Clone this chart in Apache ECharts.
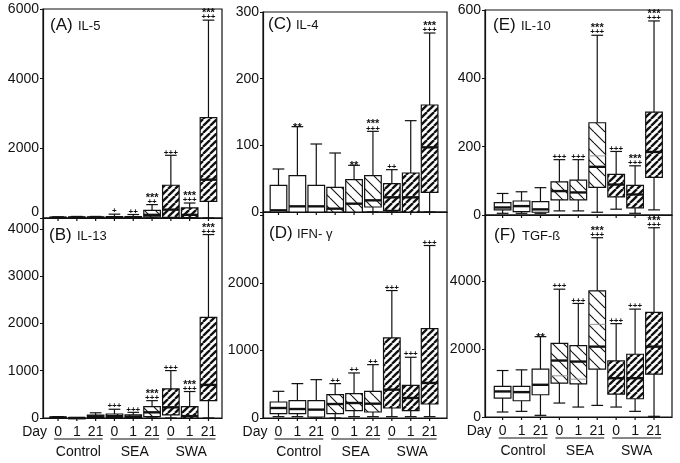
<!DOCTYPE html>
<html><head><meta charset="utf-8">
<script src="https://cdn.jsdelivr.net/npm/echarts@6/dist/echarts.min.js"></script>
<style>html,body{margin:0;padding:0;background:#fff}#c{width:680px;height:463px}</style>
</head><body><div id="c"></div>
<script>
// ---------- categories / labels ----------
const dayLabels = ['0','1','21','0','1','21','0','1','21'];
const groupLabels = ['Control','SEA','SWA'];

// ---------- (A) IL-5 ----------
const il5Min  = [0,0,0, 0,0,0, 0,0,0];
const il5Q1   = [2,3,3, 5,5,30, 20,10,480];
const il5Med  = [8,10,10, 15,15,90, 240,90,1100];
const il5Q3   = [20,30,30, 40,40,220, 940,290,2880];
const il5Max  = [35,45,45, 110,100,385, 1800,430,5680];
const il5Plus = ['','','', '+','++','++', '+++','+++','+++'];
const il5Star = ['','','', '','','***', '','***','***'];

// ---------- (B) IL-13 ----------
const il13Min  = [0,0,0, 0,0,0, 0,0,0];
const il13Q1   = [3,0,15, 10,10,30, 64,0,367];
const il13Med  = [10,2,35, 40,30,120, 226,40,700];
const il13Q3   = [20,5,60, 85,64,240, 615,240,2127];
const il13Max  = [30,8,110, 185,120,367, 1003,560,3880];
const il13Plus = ['','','', '+++','+++','+++', '+++','+++','+++'];
const il13Star = ['','','', '','','***', '','***','***'];

// ---------- (C) IL-4 ----------
const il4Min  = [0,0,0, 0,0,0, 0,0,0];
const il4Q1   = [0,0,0, 0,0,7.5, 2.5,0,29.5];
const il4Med  = [2.5,8.5,8.5, 5,12.5,17.5, 22,22,97];
const il4Q3   = [40,54.5,40, 37,48.5,54.5, 42.5,58.5,160.5];
const il4Max  = [64.5,128,102, 88.5,70,121, 63.5,137,268.5];
const il4Plus = ['','','', '','','+++', '++','','+++'];
const il4Star = ['','**','', '','**','***', '','','***'];

// ---------- (D) IFN-γ ----------
const ifnMin  = [20,20,0, 0,20,20, 20,20,20];
const ifnQ1   = [64,64,15, 64,109,89, 148,109,207];
const ifnMed  = [148,133,124, 207,222,212, 420,296,519];
const ifnQ3   = [237,257,257, 346,360,395, 1186,484,1324];
const ifnMax  = [395,509,568, 509,667,790, 1887,899,2554];
const ifnPlus = ['','','', '++','++','++', '+++','+++','+++'];
const ifnStar = ['','','', '','','', '','',''];

// ---------- (E) IL-10 ----------
const il10Min  = [5,5,5, 12,12,8, 17,5,15];
const il10Q1   = [15,10,8, 44,44,81, 53,21,110];
const il10Med  = [22,26,16.5, 70,66,141, 89,60,184.5];
const il10Mean = [null,null,null, null,null,173, null,null,null];
const il10Q3   = [36,41,39, 97,102,270, 119,87,301];
const il10Max  = [63,68,80, 162,162,526, 186,144,568];
const il10Plus = ['','','', '+++','+++','+++', '+++','+++','+++'];
const il10Star = ['','','', '','','***', '','***','***'];

// ---------- (F) TGF-ß ----------
const tgfMin  = [147,166,49, 411,293,342, 293,166,20];
const tgfQ1   = [557,479,655, 998,978,1408, 675,538,1261];
const tgfMed  = [753,733,949, 1663,1633,2073, 1144,1144,2073];
const tgfMean = [null,null,null, 1213,1115,2729, null,null,null];
const tgfQ3   = [900,900,1408, 2171,2103,3716, 1653,1848,3080];
const tgfMax  = [1369,1389,2367, 3765,3345,5281, 2750,3178,5575];
const tgfPlus = ['','','', '+++','+++','+++', '+++','+++','+++'];
const tgfStar = ['','','**', '','','***', '','','***'];

// ---------- y-axis scales ----------
const yMaxes      = [6000, 4230, 300, 3050, 600, 5950];
const yIntervals  = [2000, 1000, 100, 1000, 200, 2000];
const yLabelLimit = [6000, 4000, 300, 2000, 600, 4000];

const FONT = 'Liberation Sans, Arial, sans-serif';

function hatch(size, dir, lw) {
  const c = document.createElement('canvas');
  c.width = c.height = size;
  const g = c.getContext('2d');
  g.fillStyle = '#fff'; g.fillRect(0, 0, size, size);
  g.strokeStyle = '#111'; g.lineWidth = lw;
  for (let k = -1; k <= 1; k++) {
    g.beginPath();
    if (dir > 0) { g.moveTo(k*size, size); g.lineTo(k*size + size, 0); }
    else { g.moveTo(k*size, 0); g.lineTo(k*size + size, size); }
    g.stroke();
  }
  return c;
}
const seaPat = { image: hatch(11, -1, 1.1), repeat: 'repeat' };
const swaPat = { image: hatch(7, 1, 2.3), repeat: 'repeat' };

const panels = [
  { t:'(A)', n:'IL-5',   grid:{left:43, top:9,   width:179, height:209}, xr:[-0.8,8.72], lab:[50,34],
    d:[il5Min,il5Q1,il5Med,il5Q3,il5Max], mean:null, plus:il5Plus, star:il5Star, bottom:false, shiftZero:true },
  { t:'(B)', n:'IL-13',  grid:{left:43, top:218, width:179, height:200}, xr:[-0.8,8.72], lab:[49,244],
    d:[il13Min,il13Q1,il13Med,il13Q3,il13Max], mean:null, plus:il13Plus, star:il13Star, bottom:true },
  { t:'(C)', n:'IL-4',   grid:{left:263, top:12, width:184, height:200}, xr:[-0.82,8.92], lab:[268,33],
    d:[il4Min,il4Q1,il4Med,il4Q3,il4Max], mean:null, plus:il4Plus, star:il4Star, bottom:false },
  { t:'(D)', n:'IFN- γ', grid:{left:263, top:212, width:184, height:206}, xr:[-0.82,8.92], lab:[269,242],
    d:[ifnMin,ifnQ1,ifnMed,ifnQ3,ifnMax], mean:null, plus:ifnPlus, star:ifnStar, bottom:true },
  { t:'(E)', n:'IL-10',  grid:{left:485, top:10, width:187, height:205}, xr:[-0.93,8.95], lab:[493,34],
    d:[il10Min,il10Q1,il10Med,il10Q3,il10Max], mean:il10Mean, plus:il10Plus, star:il10Star, bottom:false },
  { t:'(F)', n:'TGF-ß',  grid:{left:485, top:215, width:187, height:202}, xr:[-0.93,8.95], lab:[494,244],
    d:[tgfMin,tgfQ1,tgfMed,tgfQ3,tgfMax], mean:tgfMean, plus:tgfPlus, star:tgfStar, bottom:true }
];

const BOXW = 0.88, CAPW = 0.62;
const ink = '#111';

function makeRender(p) {
  return function (params, api) {
    const i = api.value(0);
    const di = params.dataIndex;
    const Y = v => api.coord([i, v])[1];
    const cx = api.coord([i, 0])[0];
    const y0 = Y(0);
    const yMin = Y(api.value(1)), yQ1 = Y(api.value(2)), yMd = Y(api.value(3)),
          yQ3 = Y(api.value(4)), yMax = Y(api.value(5));
    const bw = api.size([BOXW, 0])[0], hw = bw / 2;
    const cw = api.size([CAPW, 0])[0] / 2;
    const fill = i < 3 ? '#fff' : (i < 6 ? seaPat : swaPat);
    const ls = { stroke: ink, lineWidth: 1.2 };
    const ch = [];
    ch.push({ type:'line', shape:{x1:cx, y1:y0, x2:cx, y2:y0+3}, style:ls });
    if (yQ3 - yMax > 0.5) {
      ch.push({ type:'line', shape:{x1:cx, y1:yQ3, x2:cx, y2:yMax}, style:ls });
    }
    ch.push({ type:'line', shape:{x1:cx-cw, y1:yMax, x2:cx+cw, y2:yMax}, style:ls });
    if (yMin - yQ1 > 0.8) {
      ch.push({ type:'line', shape:{x1:cx, y1:yQ1, x2:cx, y2:yMin}, style:ls });
      ch.push({ type:'line', shape:{x1:cx-cw, y1:yMin, x2:cx+cw, y2:yMin}, style:ls });
    }
    ch.push({ type:'rect', shape:{x:cx-hw, y:yQ3, width:bw, height:Math.max(yQ1-yQ3, 1)},
              style:{ fill: fill, stroke: ink, lineWidth: 1.2 } });
    if (p.mean && p.mean[di] != null) {
      const ym = Y(p.mean[di]);
      ch.push({ type:'line', shape:{x1:cx-hw, y1:ym, x2:cx+hw, y2:ym}, style:{stroke:'#999', lineWidth:1} });
    }
    ch.push({ type:'line', shape:{x1:cx-hw, y1:yMd, x2:cx+hw, y2:yMd}, style:{stroke:ink, lineWidth:2.4} });
    const pl = p.plus[di], st = p.star[di];
    if (pl) ch.push({ type:'text', x:cx, y:yMax-3,
      style:{ text:pl, fill:ink, font:'bold 8px ' + FONT, align:'center', verticalAlign:'middle' } });
    if (st) ch.push({ type:'text', x:cx, y: pl ? yMax-7 : yMax+1,
      style:{ text:st, fill:ink, font:'bold 11px ' + FONT, align:'center', verticalAlign:'middle' } });
    if (p.bottom) {
      ch.push({ type:'text', x:cx, y:y0+14,
        style:{ text:dayLabels[di], fill:ink, font:'14px ' + FONT, align:'center', verticalAlign:'middle' } });
      if (di === 0) {
        ch.push({ type:'text', x:cx-11, y:y0+14,
          style:{ text:'Day', fill:ink, font:'14px ' + FONT, align:'right', verticalAlign:'middle' } });
      }
      if (di % 3 === 0) {
        const x1 = cx - 4, x2 = api.coord([i + 2, 0])[0] + 7;
        ch.push({ type:'line', shape:{x1:x1, y1:y0+21, x2:x2, y2:y0+21}, style:{stroke:ink, lineWidth:1.2} });
        ch.push({ type:'text', x:(x1+x2)/2, y:y0+34,
          style:{ text:groupLabels[di/3], fill:ink, font:'14px ' + FONT, align:'center', verticalAlign:'middle' } });
      }
    }
    return { type:'group', children: ch };
  };
}

const chart = echarts.init(document.getElementById('c'), null, { renderer:'canvas' });

const option = {
  animation: false,
  backgroundColor: '#fff',
  grid: panels.map(p => Object.assign({ show:true, borderColor:ink, borderWidth:1.2, backgroundColor:'transparent' }, p.grid)),
  xAxis: panels.map((p, k) => ({
    gridIndex:k, type:'value', min:p.xr[0], max:p.xr[1],
    axisLine:{ show:true, onZero:false, lineStyle:{ color:ink, width:1.2 } },
    axisTick:{ show:false }, axisLabel:{ show:false }, splitLine:{ show:false }
  })),
  yAxis: panels.map((p, k) => ({
    gridIndex:k, type:'value', min:0, max:yMaxes[k], interval:yIntervals[k],
    axisLine:{ show:true, onZero:false, lineStyle:{ color:ink, width:1.2 } },
    axisTick:{ show:true, length:3, lineStyle:{ color:ink } },
    splitLine:{ show:false },
    axisLabel:{
      color:ink, fontSize:14, fontFamily:FONT, margin:4,
      showMaxLabel: yMaxes[k] % yIntervals[k] === 0,
      formatter: v => (v % yIntervals[k] !== 0 || v > yLabelLimit[k]) ? '' : (p.shiftZero && v === 0 ? '{z|0}' : String(v)),
      rich: { z: { fontSize:14, fontFamily:FONT, color:ink, padding:[0,0,11,0] } }
    }
  })),
  series: panels.map((p, k) => ({
    type:'custom', xAxisIndex:k, yAxisIndex:k, clip:false, silent:true,
    encode:{ x:0, y:[1,2,3,4,5] },
    data: dayLabels.map((_, i) => [i, p.d[0][i], p.d[1][i], p.d[2][i], p.d[3][i], p.d[4][i]]),
    renderItem: makeRender(p)
  })),
  graphic: panels.flatMap(p => [
    { type:'text', x:p.lab[0], y:p.lab[1], style:{ text:p.t, fill:ink, font:'17px ' + FONT, verticalAlign:'bottom' } },
    { type:'text', x:p.lab[0]+28, y:p.lab[1]-1, style:{ text:p.n, fill:ink, font:'13px ' + FONT, verticalAlign:'bottom' } }
  ])
};
chart.setOption(option);
</script>
</body></html>
